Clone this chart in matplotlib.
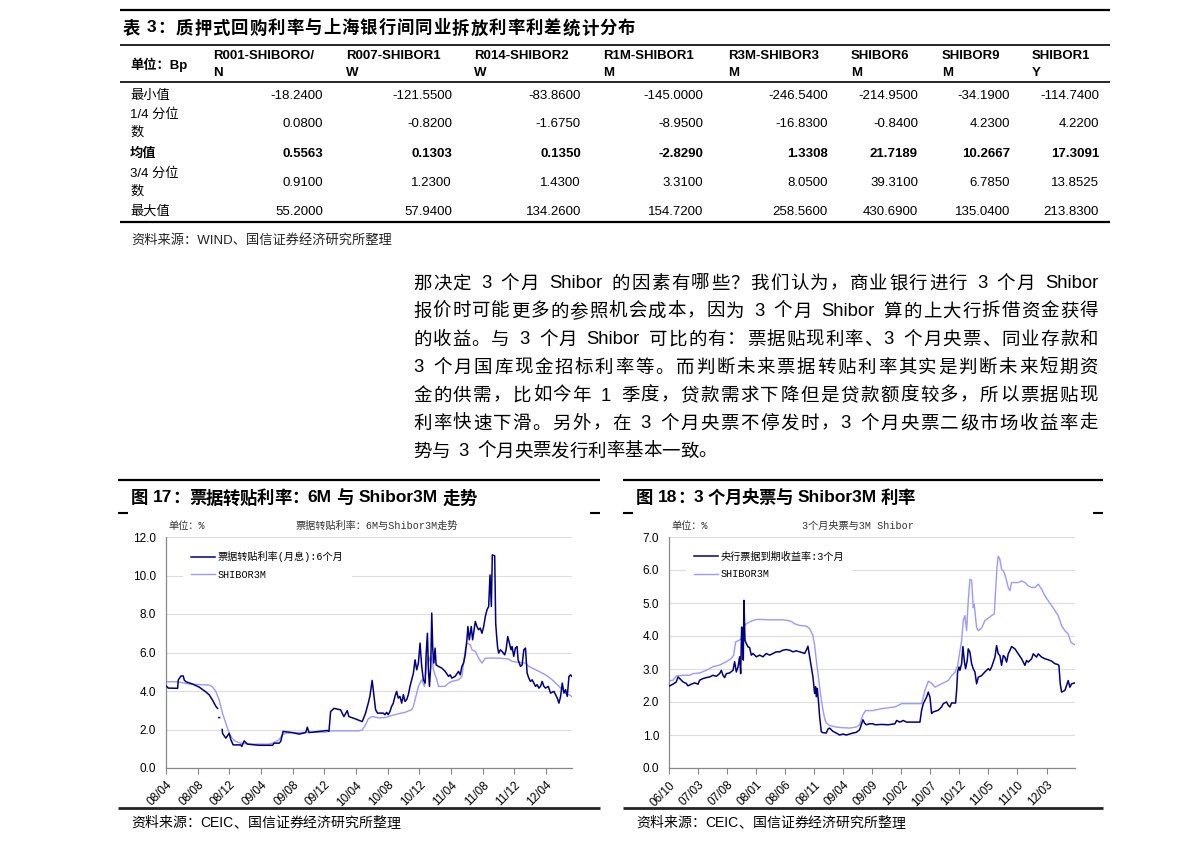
import re
import numpy as np
import matplotlib
matplotlib.use('Agg')
from matplotlib import pyplot as plt
from matplotlib.lines import Line2D

plt.rcParams['font.family'] = ['Liberation Sans', 'Noto Sans CJK SC']
SMALL = ['Liberation Mono', 'Noto Sans CJK SC']
nan = np.nan

# ---------------- table data ----------------
col_heads = ['R001-SHIBORO/\nN', 'R007-SHIBOR1\nW', 'R014-SHIBOR2\nW', 'R1M-SHIBOR1\nM',
             'R3M-SHIBOR3\nM', 'SHIBOR6\nM', 'SHIBOR9\nM', 'SHIBOR1\nY']
row_labels = ['最小值', '1/4 分位\n数', '均值', '3/4 分位\n数', '最大值']
table_vals = [
    ['-18.2400', '-121.5500', '-83.8600', '-145.0000', '-246.5400', '-214.9500', '-34.1900', '-114.7400'],
    ['0.0800', '-0.8200', '-1.6750', '-8.9500', '-16.8300', '-0.8400', '4.2300', '4.2200'],
    ['0.5563', '0.1303', '0.1350', '-2.8290', '1.3308', '21.7189', '10.2667', '17.3091'],
    ['0.9100', '1.2300', '1.4300', '3.3100', '8.0500', '39.3100', '6.7850', '13.8525'],
    ['55.2000', '57.9400', '134.2600', '154.7200', '258.5600', '430.6900', '135.0400', '213.8300'],
]

paragraph = [
    '那决定 3 个月 Shibor 的因素有哪些？我们认为，商业银行进行 3 个月 Shibor',
    '报价时可能更多的参照机会成本，因为 3 个月 Shibor 算的上大行拆借资金获得',
    '的收益。与 3 个月 Shibor 可比的有：票据贴现利率、3 个月央票、同业存款和',
    '3 个月国库现金招标利率等。而判断未来票据转贴利率其实是判断未来短期资',
    '金的供需，比如今年 1 季度，贷款需求下降但是贷款额度较多，所以票据贴现',
    '利率快速下滑。另外，在 3 个月央票不停发时，3 个月央票二级市场收益率走',
    '势与 3 个月央票发行利率基本一致。',
]

# ---------------- chart 17 data (months since 2008-04) ----------------
l_ticks = ['08/04', '08/08', '08/12', '09/04', '09/08', '09/12', '10/04',
           '10/08', '10/12', '11/04', '11/08', '11/12', '12/04']
bill_m = [0.0, 0.3, 1.47, 1.55, 1.89, 2.18, 2.31, 2.52, 3.36, 4.2, 5.04, 5.46, 5.88, 6.3, 6.51, 6.6,
          6.68, 6.76, 6.85, 7.1, 7.14, 7.56, 7.98, 8.19, 8.49, 9.45, 9.58, 9.87, 10.29, 11.76, 13.45,
          13.66, 14.29, 14.5, 14.79, 15.97, 16.81, 17.65, 17.86, 18.07, 19.33, 20.38, 20.59, 20.8,
          21.22, 22.06, 22.48, 22.9, 23.11, 23.95, 24.79, 25.21, 25.55, 25.76, 26.05, 26.31, 26.48,
          26.73, 27.45, 27.66, 27.87, 28.08, 28.3, 28.51, 28.72, 28.93, 29.14, 29.35, 29.56, 29.78,
          29.99, 30.2, 30.41, 30.62, 30.83, 31.04, 31.26, 31.47, 31.68, 31.89, 32.1, 32.31, 32.52,
          32.74, 32.86, 33.03, 33.16, 33.29, 33.45, 33.58, 33.71, 33.84, 34.0, 34.13, 34.43, 34.85,
          35.27, 35.7, 35.91, 36.12, 36.54, 36.96, 37.18, 37.39, 37.6, 37.81, 38.02, 38.15, 38.32,
          38.57, 38.74, 38.87, 39.08, 39.29, 39.5, 39.71, 39.92, 40.14, 40.35, 40.56, 40.77, 40.94,
          41.11, 41.23, 41.53, 41.66, 41.78, 41.91, 42.04, 42.25, 42.46, 42.8, 42.97, 43.18, 43.39,
          43.6, 43.73, 43.94, 44.15, 44.36, 44.49, 44.79, 45.0, 45.21, 45.42, 45.63, 45.84, 46.05,
          46.27, 46.48, 46.69, 46.9, 47.11, 47.32, 47.53, 47.75, 47.96, 48.3, 48.59, 49.01, 49.44,
          49.65, 49.86, 50.07, 50.28, 50.49, 50.7, 50.92, 51.13, 51.27]
bill_v = [4.27, 4.15, 4.14, 4.57, 4.78, 4.78, 4.57, 4.48, 4.36, 4.2, 3.95, 3.8, 3.53, 3.2, 3.1, nan,
          2.62, 2.62, nan, 2.0, 1.8, 1.55, 1.8, 1.47, 1.2, 1.2, 1.12, 1.41, 1.24, 1.18, 1.18,
          1.29, 1.29, 1.38, 1.9, 1.84, 1.76, 1.84, 2.12, 1.84, 1.9, 1.95, 1.9, 2.93,
          3.1, 3.02, 2.67, 2.98, 2.67, 2.55, 2.41, 2.84, 3.36, 3.72, 4.55, 3.63, 3.03,
          2.85, 2.85, 2.77, 2.89, 2.77, 2.94, 3.2, 3.37, 3.72, 3.98, 3.63, 3.72, 3.37,
          3.81, 3.46, 3.55, 3.81, 4.24, 4.58, 4.93, 5.62, 5.1, 5.45, 6.49, 5.28, 4.58,
          4.41, 5.8, 7.0, 5.1, 4.24, 5.28, 8.05, 6.14, 5.45, 6.23, 5.36, 5.28, 5.19,
          5.02, 4.76, 4.84, 4.67, 4.76, 5.02, 4.84, 5.28, 5.45, 5.88, 6.66, 7.35, 6.66,
          7.35, 6.66, 7.0, 7.61, 7.35, 7.18, 7.27, 7.0, 7.35, 7.87, 8.22, 8.39, 10.03,
          8.39, 11.07, 11.03, 7.52, 6.83, 6.23, 5.97, 6.14, 6.06, 5.88, 6.14, 6.83, 6.49,
          6.14, 6.31, 5.8, 6.23, 6.31, 5.62, 5.28, 5.36, 6.14, 6.23, 4.93, 4.67, 4.5,
          4.58, 4.41, 4.24, 4.33, 4.15, 4.24, 4.5, 4.24, 4.15, 4.24, 3.89, 3.98, 3.63,
          3.37, 3.72, 4.41, 3.89, 4.07, 3.72, 4.76, 4.84, 4.76]
shib_l_m = [0, 1.47, 2.94, 5.46, 5.88, 6.3, 6.72, 7.14, 7.56, 7.98, 8.4, 8.82, 9.45, 10.08, 10.92,
            13.03, 13.66, 14.29, 14.71, 15.13, 16.81, 18.49, 20.17, 20.59, 24.37, 24.79, 25.21,
            25.55, 26.05, 26.9, 27.8, 28.5, 29.35, 30.2, 31.04, 31.26, 31.47, 31.89, 32.31, 32.65,
            32.82, 33.0, 33.16, 33.37, 33.58, 33.79, 34.0, 34.22, 34.43, 35.27, 35.7, 36.12, 36.96,
            37.39, 37.6, 37.81, 38.02, 38.45, 38.66, 39.08, 39.5, 39.92, 40.35, 42.04, 43.3, 43.73,
            44.57, 45.42, 45.84, 46.27, 47.11, 47.96, 48.8, 49.44, 50.07, 50.49, 50.92, 51.27]
shib_l_v = [4.48, 4.48, 4.36, 4.31, 4.22, 3.97, 3.53, 2.84, 2.33, 1.81, 1.52, 1.38, 1.29, 1.26, 1.24,
            1.24, 1.33, 1.47, 1.72, 1.81, 1.84, 1.86, 1.86, 1.93, 1.93, 1.98, 2.24,
            2.55, 2.68, 2.6, 2.63, 2.72, 2.82, 2.89, 3.03, 3.2, 3.55, 4.24, 4.58, 4.24,
            4.93, 5.62, 5.8, 5.54, 5.8, 5.1, 4.84, 4.58, 4.24, 4.24, 4.41, 4.5, 4.58,
            4.76, 5.45, 6.14, 6.49, 6.4, 6.14, 6.06, 5.71, 5.45, 5.71, 5.71, 5.66, 5.54,
            5.49, 5.45, 5.28, 5.19, 5.02, 4.84, 4.58, 4.33, 4.07, 3.89, 3.8, 3.72]

# ---------------- chart 18 data (months since 2006-10) ----------------
r_ticks = ['06/10', '07/03', '07/08', '08/01', '08/06', '08/11', '09/04',
           '09/09', '10/02', '10/07', '10/12', '11/05', '11/10', '12/03']
cb_m = [0, 0.69, 1.26, 1.55, 1.84, 2.41, 2.98, 3.27, 3.84, 4.42, 4.99, 5.28, 5.85, 6.43, 7.0, 7.57,
        8.15, 8.72, 9.01, 9.29, 9.58, 9.87, 10.44, 11.02, 11.3, 11.59, 11.88, 12.16, 12.34, 12.51,
        12.68, 12.79, 12.91, 13.08, 13.31, 13.6, 13.88, 14.17, 14.46, 15.03, 15.61, 16.18, 16.75,
        17.33, 17.9, 18.47, 19.05, 19.62, 20.19, 20.77, 21.34, 21.92, 22.49, 23.06, 23.35, 23.64,
        23.92, 24.21, 24.5, 24.78, 25.07, 25.24, 25.36, 25.53, 25.76, 25.93, 26.22, 26.51, 27.08,
        27.37, 27.65, 28.23, 28.8, 29.37, 29.95, 30.52, 31.1, 31.67, 32.24, 32.82, 33.1, 33.39,
        33.68, 33.96, 34.54, 35.11, 35.46, 36.61, 37.75, 38.9, 39.19, 39.76, 40.34, 40.91, 41.77,
        43.2, 43.49, 43.78, 44.06, 44.35, 44.64, 44.93, 45.21, 45.5, 46.36, 46.93, 47.22, 47.79,
        48.08, 48.37, 48.65, 49.34, 49.52, 49.69, 49.92, 50.09, 50.38, 50.6, 50.83, 51.06, 51.35,
        51.52, 51.81, 52.1, 52.38, 52.67, 52.96, 53.24, 53.82, 54.39, 54.97, 55.25, 55.54, 55.83,
        56.12, 56.4, 56.69, 56.97, 57.26, 57.55, 57.83, 58.12, 58.41, 58.69, 58.98, 59.56, 60.13,
        60.7, 60.99, 61.28, 61.56, 61.85, 62.43, 62.71, 63.28, 63.57, 64.15, 64.72, 65.29, 65.87,
        66.44, 66.9, 67.13, 67.36, 67.59, 68.16, 68.45, 68.73, 69.02, 69.31, 69.88]
cb_v = [2.48, 2.54, 2.61, 2.76, 2.71, 2.61, 2.56, 2.49, 2.54, 2.58, 2.54, 2.66, 2.71, 2.74, 2.76, 2.81,
        2.78, 2.86, 2.96, 2.81, 2.74, 2.86, 2.88, 2.96, 3.22, 2.91, 3.06, 3.37, 2.86, 4.27,
        3.87, 3.27, 5.08, 3.87, 3.77, 3.67, 3.65, 3.42, 3.47, 3.37, 3.42, 3.37, 3.47,
        3.42, 3.47, 3.52, 3.52, 3.57, 3.59, 3.57, 3.52, 3.55, 3.52, 3.49, 3.47, 3.57,
        3.69, 3.37, 3.06, 2.76, 2.26, 2.46, 2.16, 2.41, 1.96, 1.56, 1.1, 1.07, 1.06,
        1.18, 1.21, 1.11, 1.06, 1.0, 1.03, 1.0, 1.03, 1.06, 1.08, 1.16, 1.31, 1.46,
        1.36, 1.31, 1.34, 1.34, 1.31, 1.32, 1.31, 1.34, 1.44, 1.39, 1.44, 1.39, 1.39,
        1.39, 1.75, 1.95, 2.05, 2.15, 2.3, 2.15, 1.65, 1.7, 1.75, 1.85, 1.95, 2.0,
        1.9, 1.85, 1.97, 1.97, 2.35, 2.91, 3.06, 2.96, 3.16, 3.68, 3.26, 3.01, 3.26,
        3.61, 3.51, 3.16, 3.01, 2.91, 2.55, 2.75, 2.8, 2.91, 3.01, 2.96, 3.06, 3.21,
        3.36, 3.71, 3.46, 3.41, 3.11, 3.41, 3.36, 3.21, 3.46, 3.56, 3.68, 3.61, 3.46,
        3.31, 3.21, 3.11, 3.26, 3.21, 3.31, 3.46, 3.36, 3.46, 3.36, 3.31, 3.28, 3.24,
        3.16, 3.14, 3.11, 2.55, 2.3, 2.35, 2.5, 2.65, 2.45, 2.55, 2.58]
shib_r_m = [0, 0.69, 1.26, 2.41, 3.56, 4.13, 5.28, 6.43, 7.57, 8.72, 9.87, 10.73, 11.13, 11.47, 12.05,
            12.45, 12.74, 13.31, 14.17, 15.03, 16.18, 17.33, 18.47, 19.62, 20.48, 21.06, 21.63,
            22.49, 23.64, 24.21, 24.78, 25.07, 25.36, 25.65, 25.93, 26.22, 26.51, 26.79, 27.08,
            27.65, 28.8, 29.95, 31.1, 32.24, 32.82, 33.39, 33.85, 35.11, 36.61, 38.9, 40.05, 43.49,
            43.78, 44.06, 44.64, 45.21, 45.79, 46.93, 48.08, 48.65, 49.23, 49.69, 50.09, 50.38,
            50.66, 50.95, 51.24, 51.52, 51.81, 52.1, 52.38, 52.55, 52.78, 52.96, 53.24, 53.82,
            54.39, 54.97, 55.54, 56.0, 56.23, 56.46, 56.69, 56.97, 57.26, 57.55, 57.83, 58.12,
            58.41, 58.69, 58.98, 59.56, 60.13, 60.7, 61.28, 61.85, 62.43, 63.0, 63.57, 64.15,
            64.72, 65.29, 65.87, 66.44, 67.01, 67.59, 68.16, 68.73, 69.19, 69.88]
shib_r_v = [2.64, 2.66, 2.79, 2.81, 2.81, 2.86, 2.88, 2.96, 3.07, 3.12, 3.22, 3.32, 3.42, 3.82, 3.87,
            3.92, 4.27, 4.37, 4.45, 4.5, 4.5, 4.49, 4.49, 4.49, 4.47, 4.44, 4.37,
            4.32, 4.3, 4.22, 4.02, 3.72, 3.27, 2.86, 2.46, 2.06, 1.76, 1.51, 1.36,
            1.29, 1.24, 1.22, 1.21, 1.24, 1.31, 1.61, 1.74, 1.74, 1.8, 1.85, 1.95, 1.95,
            2.15, 2.35, 2.63, 2.57, 2.45, 2.55, 2.65, 2.8, 2.9, 3.1, 3.55, 3.86,
            4.47, 4.62, 4.16, 5.07, 5.72, 5.69, 4.86, 4.96, 4.56, 4.26, 4.16, 4.24,
            4.47, 4.54, 4.62, 4.67, 5.37, 6.07, 6.42, 6.32, 6.02, 5.97, 5.87, 5.67,
            5.47, 5.37, 5.62, 5.62, 5.62, 5.67, 5.62, 5.52, 5.47, 5.47, 5.57, 5.42,
            5.22, 5.07, 4.92, 4.77, 4.62, 4.31, 4.16, 4.06, 3.81, 3.73]

# ---------------- page helpers ----------------
W, H = 1191, 851
fig = plt.figure(figsize=(W / 100, H / 100), dpi=100)
rend = fig.canvas.get_renderer()


def fx(x):
    return x / W


def fy(y):
    return 1 - y / H


def put(x, y, s, size, ha='left', weight='normal', family=None, **kw):
    kw2 = dict(ha=ha, va='center', fontsize=size, fontweight=weight)
    if family:
        kw2['family'] = family
    kw2.update(kw)
    return fig.text(fx(x), fy(y), s, **kw2)


def hline(x0, x1, y, lw=1.2, color='black'):
    fig.add_artist(Line2D([fx(x0), fx(x1)], [fy(y), fy(y)], transform=fig.transFigure,
                          lw=lw, color=color, solid_capstyle='butt'))


def run(text, x0, y, size, x1=None, weight='normal', space=0.3):
    # lay a line out token by token, optionally stretched to end at x1
    # (spaces keep a fixed width, the slack goes between the other tokens)
    em = size * 100 / 72
    toks = re.findall(r'[A-Za-z0-9./:%-]+| |.', text)
    items = []
    for tk in toks:
        if tk == ' ':
            items.append((None, em * space))
        elif ord(tk[0]) > 0x2E80:
            items.append((put(0, y, tk, size, weight=weight), em))
        else:
            t = put(0, y, tk, size, weight=weight)
            items.append((t, t.get_window_extent(rend).width))
    total = sum(w for _, w in items)
    nword = sum(1 for t, _ in items if t is not None)
    gap = (x1 - x0 - total) / (nword - 1) if x1 else 0
    x = x0
    for j, (t, w) in enumerate(items):
        if t is not None:
            t.set_x(fx(x))
            x += w
            if j + 1 < len(items) and items[j + 1][0] is not None:
                x += gap
        else:
            x += w + gap


# ---------------- table ----------------
hline(120, 1110, 10, 1.6)
run('表 3：质押式回购利率与上海银行间同业拆放利率利差统计分布', 123, 28, 12.5, x1=635, weight='bold')
hline(120, 1110, 45, 1.2)
put(130, 65, '单位：Bp', 9.5, weight='bold')
head_x = [213, 346, 474, 603, 728, 851, 942, 1032]
val_x = [323, 452, 581, 703, 828, 918, 1010, 1099]
for hx, head in zip(head_x, col_heads):
    a, b = head.split('\n')
    put(hx, 56, a, 9.5, weight='bold')
    put(hx, 73, b, 9.5, weight='bold')
hline(120, 1110, 82, 1.2)
row_y = [96, 124, 154, 183, 212]
for i, (ry, lab) in enumerate(zip(row_y, row_labels)):
    wt = 'bold' if lab == '均值' else 'normal'
    parts = lab.split('\n')
    if len(parts) == 2:
        put(130, ry - 9, parts[0], 9.5, weight=wt)
        put(130, ry + 8, parts[1], 9.5, weight=wt)
    else:
        put(130, ry, lab, 9.5, weight=wt)
    for vx, v in zip(val_x, table_vals[i]):
        put(vx, ry, v, 9.5, ha='right', weight=wt)
hline(120, 1110, 222, 1.6)
put(131, 240, '资料来源：WIND、国信证券经济研究所整理', 9.5, color='#222222')

# ---------------- paragraph ----------------
for k, line in enumerate(paragraph):
    last = k == len(paragraph) - 1
    run(line, 413, 284 + 28 * k, 13.3, x1=None if last else 1098, space=0.45)


# ---------------- charts ----------------
def panel(x0, x1, title, title_end, sub, sub_cx, ax_l, ax_r):
    hline(x0, x1, 480, 1.6)
    run(title, x0 + 13, 498, 12.5, x1=title_end, weight='bold')
    hline(x0, x0 + 10, 513, 1.5)
    hline(x1 - 10, x1, 513, 1.5)
    put(ax_l + 2, 526, '单位：%', 7.3, family=SMALL, color='#333333')
    put(sub_cx, 526, sub, 7.3, ha='center', family=SMALL, color='#333333')
    hline(x0, x1, 808, 2.0, color='#222222')
    run('资料来源：CEIC、国信证券经济研究所整理', x0 + 13, 823, 10)
    return fig.add_axes([fx(ax_l), fy(768), (ax_r - ax_l) / W, (768 - 537) / H])


def style(ax, xmax, ymax, ystep, xt, xlabels, legend_labels, lines):
    ax.set_xlim(0, xmax)
    ax.set_ylim(0, ymax)
    ax.set_yticks(np.arange(0, ymax + 0.01, ystep))
    ax.set_yticklabels(['%.1f' % v for v in np.arange(0, ymax + 0.01, ystep)], fontsize=8.5)
    ax.set_xticks(xt)
    ax.set_xticklabels(xlabels, fontsize=8.5, rotation=45, ha='right', va='top',
                       rotation_mode='anchor')
    ax.tick_params(axis='y', length=0, pad=7)
    ax.tick_params(axis='x', length=4, color='#888888', pad=4)
    ax.grid(axis='y', color='#dddddd', lw=0.8)
    ax.set_axisbelow(True)
    for s in ['top', 'right']:
        ax.spines[s].set_visible(False)
    for s in ['left', 'bottom']:
        ax.spines[s].set_color('#888888')
        ax.spines[s].set_linewidth(0.9)
    leg = ax.legend(lines, legend_labels, loc='upper left', bbox_to_anchor=(0.03, 0.995),
                    prop={'family': SMALL, 'size': 7.3}, handlelength=2.3, handletextpad=0.3,
                    labelspacing=0.75, borderpad=0.8, frameon=True, fancybox=False,
                    framealpha=1, facecolor='white', edgecolor='none')
    leg.set_zorder(5)


DARK, LIGHT = '#000080', '#9999ff'

ax1 = panel(118, 600, '图 17：票据转贴利率：6M 与 Shibor3M 走势', 477,
            '票据转贴利率：6M与Shibor3M走势', 377, 166, 572)
la, = ax1.plot(bill_m, bill_v, color=DARK, lw=1.1, zorder=3)
lb, = ax1.plot(shib_l_m, shib_l_v, color=LIGHT, lw=1.0, zorder=2)
style(ax1, 51.3, 12, 2, np.arange(0, 49, 4), l_ticks,
      ['票据转贴利率(月息):6个月', 'SHIBOR3M'], [la, lb])

ax2 = panel(623, 1103, '图 18：3 个月央票与 Shibor3M 利率', 915,
            '3个月央票与3M Shibor', 858, 669, 1075)
lc, = ax2.plot(cb_m, cb_v, color=DARK, lw=1.1, zorder=3)
ld, = ax2.plot(shib_r_m, shib_r_v, color=LIGHT, lw=1.0, zorder=2)
style(ax2, 69.9, 7, 1, np.arange(0, 66, 5), r_ticks,
      ['央行票据到期收益率:3个月', 'SHIBOR3M'], [lc, ld])

fig.savefig('out.png', dpi=100)
